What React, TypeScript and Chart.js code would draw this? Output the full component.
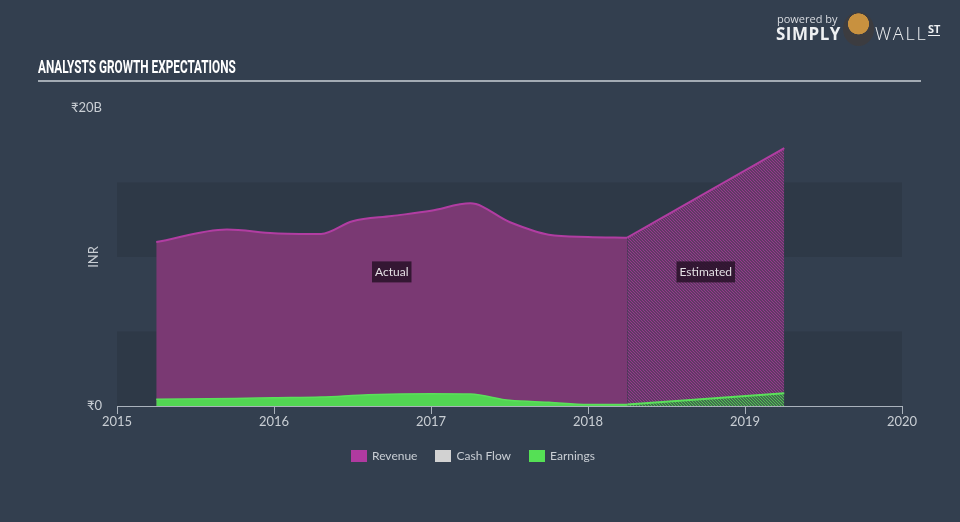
import React, { useEffect, useRef } from "react";
import { Chart, registerables } from "chart.js";

Chart.register(...registerables);

// ---- data (years as decimals, values in ₹ billions) ----
const xTicks = [2015, 2016, 2017, 2018, 2019, 2020];
const yTicks = [0, 20];

const revActualX = [2015.25, 2015.7, 2016.0, 2016.3, 2016.5, 2016.75, 2017.0, 2017.25, 2017.5, 2017.75, 2018.0, 2018.25];
const revActualY = [11.0, 11.85, 11.6, 11.55, 12.4, 12.75, 13.1, 13.6, 12.35, 11.5, 11.35, 11.3];
const revEstX = [2018.25, 2019.25];
const revEstY = [11.3, 17.3];

const earnActualX = [2015.25, 2015.75, 2016.0, 2016.3, 2016.6, 2017.0, 2017.25, 2017.5, 2017.75, 2018.0, 2018.25];
const earnActualY = [0.45, 0.5, 0.55, 0.6, 0.75, 0.82, 0.8, 0.38, 0.25, 0.1, 0.1];
const earnEstX = [2018.25, 2019.25];
const earnEstY = [0.1, 0.85];

const periodLabels = ["Actual", "Estimated"];
const periodMid = [2016.75, 2018.75];
const periodLabelY = 9.0;

const legendItems = [
  { label: "Revenue", color: "#b03aa0" },
  { label: "Cash Flow", color: "#d2d2d2" },
  { label: "Earnings", color: "#55e055" },
];

const BG = "#333f4f";
const BAND = "#2e3947";
const REV_LINE = "#b13da2";
const REV_FILL = "#7a3973";
const EARN_LINE = "#5be05b";
const EARN_FILL = "#52d653";
const AXIS = "#aab2bc";
const TEXT = "#c9ced4";
const FONT = "Lato, 'Open Sans', sans-serif";

function pts(xs: number[], ys: number[]) {
  return xs.map((x, i) => ({ x, y: ys[i] }));
}

function makeHatch(bg: string, line: string) {
  const n = 3;
  const c = document.createElement("canvas");
  c.width = n;
  c.height = n;
  const g = c.getContext("2d")!;
  g.fillStyle = bg;
  g.fillRect(0, 0, n, n);
  g.strokeStyle = line;
  g.lineWidth = 1.1;
  g.beginPath();
  g.moveTo(0, 0);
  g.lineTo(n, n);
  g.moveTo(-1, n - 1);
  g.lineTo(1, n + 1);
  g.moveTo(n - 1, -1);
  g.lineTo(n + 1, 1);
  g.stroke();
  return g.createPattern(c, "repeat")!;
}

const bandsPlugin = {
  id: "bands",
  beforeDraw(chart: any) {
    const { ctx, chartArea, scales } = chart;
    const y = scales.y;
    ctx.save();
    ctx.fillStyle = BAND;
    [[0, 5], [10, 15]].forEach(([a, b]) => {
      const top = y.getPixelForValue(b);
      const bot = y.getPixelForValue(a);
      ctx.fillRect(chartArea.left, top, chartArea.right - chartArea.left, bot - top);
    });
    ctx.restore();
  },
};

const labelsPlugin = {
  id: "periodLabels",
  afterDatasetsDraw(chart: any) {
    const { ctx, scales, chartArea } = chart;
    ctx.save();
    ctx.font = `12px ${FONT}`;
    ctx.textAlign = "center";
    ctx.textBaseline = "middle";
    periodLabels.forEach((t, i) => {
      const cx = scales.x.getPixelForValue(periodMid[i]);
      const cy = scales.y.getPixelForValue(periodLabelY);
      const w = ctx.measureText(t).width + 6;
      ctx.fillStyle = "rgba(40,18,40,0.85)";
      ctx.fillRect(cx - w / 2, cy - 10.5, w, 21);
      ctx.fillStyle = "#e4e0e4";
      ctx.fillText(t, cx, cy);
    });
    // y axis title
    ctx.translate(94, (chartArea.top + chartArea.bottom) / 2);
    ctx.rotate(-Math.PI / 2);
    ctx.fillStyle = TEXT;
    ctx.font = `13px ${FONT}`;
    ctx.fillText("INR", 0, 0);
    ctx.restore();
  },
};

export default function App() {
  const ref = useRef<HTMLCanvasElement>(null);

  useEffect(() => {
    if (!ref.current) return;
    const revHatch = makeHatch("#4a3b55", "#9a3a90");
    const earnHatch = makeHatch("#3a4a4c", "#55c855");
    const chart = new Chart(ref.current, {
      type: "line",
      data: {
        datasets: [
          {
            label: "Revenue",
            data: pts(revActualX, revActualY),
            borderColor: REV_LINE,
            backgroundColor: REV_FILL,
            borderWidth: 2,
            fill: "origin",
            cubicInterpolationMode: "monotone",
            pointRadius: 0,
            order: 3,
          },
          {
            label: "Revenue (estimated)",
            data: pts(revEstX, revEstY),
            borderColor: REV_LINE,
            backgroundColor: revHatch,
            borderWidth: 2,
            fill: "origin",
            tension: 0,
            pointRadius: 0,
            order: 3,
          },
          {
            label: "Earnings",
            data: pts(earnActualX, earnActualY),
            borderColor: EARN_LINE,
            backgroundColor: EARN_FILL,
            borderWidth: 1.5,
            fill: "origin",
            cubicInterpolationMode: "monotone",
            pointRadius: 0,
            order: 1,
          },
          {
            label: "Earnings (estimated)",
            data: pts(earnEstX, earnEstY),
            borderColor: EARN_LINE,
            backgroundColor: earnHatch,
            borderWidth: 2,
            fill: "origin",
            tension: 0,
            pointRadius: 0,
            order: 1,
          },
        ],
      } as any,
      options: {
        animation: false,
        responsive: false,
        maintainAspectRatio: false,
        layout: { padding: { left: 0, right: 58, top: 108, bottom: 0 } },
        plugins: { legend: { display: false }, tooltip: { enabled: false }, title: { display: false } },
        scales: {
          x: {
            type: "linear",
            min: 2015,
            max: 2020,
            afterBuildTicks: (s: any) => {
              s.ticks = xTicks.map((v) => ({ value: v }));
            },
            afterFit: (s: any) => {
              s.height = 116;
            },
            ticks: {
              color: TEXT,
              font: { family: FONT, size: 13 },
              padding: 0,
              maxRotation: 0,
              autoSkip: false,
              callback: (v: any) => String(v),
            },
            grid: { display: true, drawOnChartArea: false, drawTicks: true, tickLength: 8, color: AXIS },
            border: { display: true, color: AXIS, width: 1 },
          },
          y: {
            type: "linear",
            min: 0,
            max: 20,
            afterBuildTicks: (s: any) => {
              s.ticks = yTicks.map((v) => ({ value: v }));
            },
            afterFit: (s: any) => {
              s.width = 117;
            },
            ticks: {
              color: TEXT,
              font: { family: FONT, size: 13 },
              padding: 7,
              callback: (v: any) => (v === 0 ? "₹0" : `₹${v}B`),
            },
            grid: { display: false },
            border: { display: false },
          },
        },
      } as any,
      plugins: [bandsPlugin, labelsPlugin],
    });
    return () => chart.destroy();
  }, []);

  return (
    <div
      style={{
        position: "absolute",
        left: 0,
        top: 0,
        width: 960,
        height: 522,
        background: BG,
        overflow: "hidden",
        fontFamily: FONT,
      }}
    >
      <canvas ref={ref} width={960} height={522} style={{ position: "absolute", left: 0, top: 0 }} />
      {/* title */}
      <div
        style={{
          position: "absolute",
          left: 38,
          top: 56,
          color: "#ffffff",
          fontFamily: "Roboto, sans-serif",
          fontWeight: 700,
          fontSize: 19,
          whiteSpace: "nowrap",
          transform: "scaleX(0.62)",
          transformOrigin: "left top",
          lineHeight: "22px",
        }}
      >
        ANALYSTS GROWTH EXPECTATIONS
      </div>
      <div style={{ position: "absolute", left: 38, top: 80, width: 883, height: 2, background: "#a3abb4" }} />
      {/* logo */}
      <div style={{ position: "absolute", left: 777, top: 11, color: "#d8dbe0", fontSize: 11, fontFamily: "'Open Sans', sans-serif" }}>
        powered by
      </div>
      <div
        style={{
          position: "absolute",
          left: 776,
          top: 22,
          color: "#eef0f2",
          fontSize: 17,
          fontWeight: 700,
          fontFamily: "'Open Sans', sans-serif",
          letterSpacing: 0.5,
        }}
      >
        SIMPLY
      </div>
      <div
        style={{
          position: "absolute",
          left: 843,
          top: 12,
          width: 31,
          height: 34,
          borderRadius: "50%",
          background: "radial-gradient(circle at 50% 35%, #c8913f 0 38%, #3c3c40 40% 100%)",
        }}
      />
      <div
        style={{
          position: "absolute",
          left: 875,
          top: 21,
          color: "#eef0f2",
          fontSize: 18,
          fontWeight: 300,
          fontFamily: "'Open Sans', sans-serif",
          letterSpacing: 1.8,
        }}
      >
        WALL
      </div>
      <div
        style={{
          position: "absolute",
          left: 928,
          top: 22,
          color: "#eef0f2",
          fontSize: 11,
          fontWeight: 700,
          fontFamily: "'Open Sans', sans-serif",
          borderBottom: "1.5px solid #eef0f2",
          lineHeight: "13px",
        }}
      >
        ST
      </div>
      {/* legend */}
      <div
        style={{
          position: "absolute",
          left: -7,
          top: 448,
          width: 960,
          display: "flex",
          justifyContent: "center",
          gap: 18,
          color: TEXT,
          fontSize: 12,
        }}
      >
        {legendItems.map((it) => (
          <div key={it.label} style={{ display: "flex", alignItems: "center", gap: 5 }}>
            <span style={{ display: "inline-block", width: 16, height: 12, background: it.color }} />
            <span>{it.label}</span>
          </div>
        ))}
      </div>
    </div>
  );
}
